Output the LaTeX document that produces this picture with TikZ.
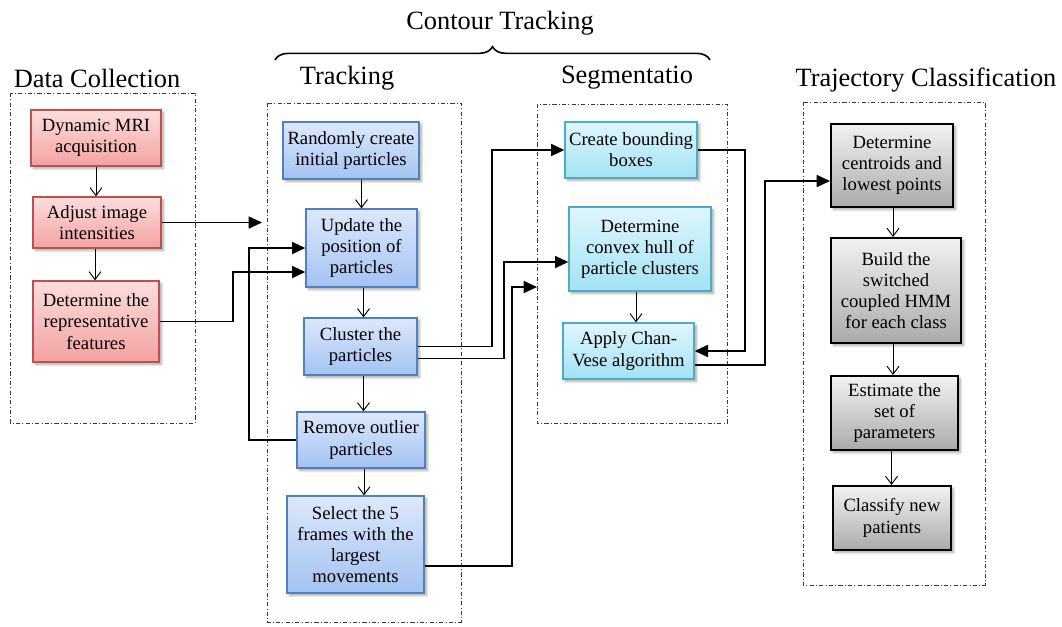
\documentclass[tikz,border=0pt]{standalone}
\usepackage{fontspec}
\setmainfont{Liberation Serif}
\usetikzlibrary{arrows.meta,shadows.blur,decorations.pathreplacing,calc}

\definecolor{redline}{HTML}{C0504D}
\definecolor{redtop}{HTML}{FDDDDD}
\definecolor{redbot}{HTML}{F2A2A1}
\definecolor{blueline}{HTML}{4F81BD}
\definecolor{bluetop}{HTML}{DDE8FB}
\definecolor{bluebot}{HTML}{A4C2F2}
\definecolor{cyanline}{HTML}{4BACC6}
\definecolor{cyantop}{HTML}{E0F6FC}
\definecolor{cyanbot}{HTML}{A2E2F4}
\definecolor{graytop}{HTML}{F2F2F2}
\definecolor{graybot}{HTML}{AAAAAA}
\definecolor{frameline}{HTML}{3A3A3A}

\tikzset{
  bw/.style={minimum width=#1*0.75pt},
  bh/.style={minimum height=#1*0.75pt},
  box/.style={rectangle, align=center, inner sep=0.5pt,
    font=\fontsize{14}{15.9}\selectfont,
    blur shadow={shadow xshift=1.8pt, shadow yshift=-1.8pt, shadow blur steps=6, shadow opacity=35}},
  redbox/.style={box, draw=redline, line width=1pt, top color=redtop, bottom color=redbot},
  bluebox/.style={box, draw=blueline, line width=1pt, top color=bluetop, bottom color=bluebot},
  cyanbox/.style={box, draw=cyanline, line width=1pt, top color=cyantop, bottom color=cyanbot},
  graybox/.style={box, draw=black, line width=1.5pt, top color=graytop, bottom color=graybot},
  stage/.style={draw=frameline, line width=0.6pt,
    dash pattern=on 3.2pt off 1.6pt on 0.8pt off 1.6pt},
  heading/.style={font=\fontsize{19.8}{22}\selectfont, inner sep=0pt},
  flow/.style={line width=0.7pt, -{Straight Barb[length=6pt,width=9pt]}},
  link/.style={line width=1.3pt, -{Triangle[length=10pt,width=9pt]}}
}

\begin{document}
\begin{tikzpicture}[x=0.75pt, y=-0.75pt]
\useasboundingbox (0,0) rectangle (1062,626);

% stage frames
\draw[stage] (10,93) rectangle (195,423);
\draw[stage] (267,103) rectangle (461,622);
\draw[stage] (537,104) rectangle (727,423);
\draw[stage] (803,102) rectangle (985,585);

% headings
\node[heading] (hdc) at (97,78) {Data Collection};
\node[heading] (htr) at (347,78) {Tracking};
\node[heading] (hsg) at (627,78) {Segmentatio};
\node[heading] (htc) at (926,80) {Trajectory Classification};
\node[heading] (hct) at (500,23) {Contour Tracking};
\coordinate (brl) at (275,60);
\coordinate (brr) at (710,60);
\draw[line width=1.2pt, decorate, decoration={brace, amplitude=10pt}] (brl) -- (brr);

% data collection
\node[redbox, bw=130, bh=56] (dyn) at (96,138) {Dynamic MRI\\acquisition};
\node[redbox, bw=128, bh=51] (adj) at (97,222.5) {Adjust image\\intensities};
\node[redbox, bw=126, bh=81] (rep) at (96,321.5) {Determine the\\representative\\features};

% tracking
\node[bluebox, bw=136, bh=57] (rnd) at (351,150.5) {Randomly create\\initial particles};
\node[bluebox, bw=111, bh=78] (upd) at (361.5,248) {Update the\\position of\\particles};
\node[bluebox, bw=113, bh=57] (clu) at (360.5,346.5) {Cluster the\\particles};
\node[bluebox, bw=128, bh=56] (rem) at (361,440) {Remove outlier\\particles};
\node[bluebox, bw=137, bh=97] (sel) at (355.5,544.5) {Select the 5\\frames with the\\largest\\movements};

% segmentation
\node[cyanbox, bw=132, bh=56] (bnd) at (631,150) {Create bounding\\boxes};
\node[cyanbox, bw=142, bh=84] (hull) at (640,249) {Determine\\convex hull of\\particle clusters};
\node[cyanbox, bw=131, bh=56] (cv) at (628.5,351) {Apply Chan-\\Vese algorithm};

% trajectory classification
\node[graybox, bw=122, bh=83] (cen) at (892,165.5) {Determine\\centroids and\\lowest points};
\node[graybox, bw=130, bh=105] (hmm) at (896,290.5) {Build the\\switched\\coupled HMM\\for each class};
\node[graybox, bw=127, bh=74] (est) at (894.5,413) {Estimate the\\set of\\parameters};
\node[graybox, bw=118, bh=64] (cls) at (892,518) {Classify new\\patients};

% ports
\coordinate (trin) at (262,222.5);
\coordinate (updin) at ($(upd.west)+(0,24)$);
\coordinate (cluout) at ($(clu.east)+(0,12)$);
\coordinate (hullin) at ($(hull.west)+(0,13)$);
\coordinate (selout) at ($(sel.east)+(0,21.5)$);
\coordinate (sgin) at (537,287);
\coordinate (cvout) at ($(cv.east)+(0,14)$);
\coordinate (cenin) at ($(cen.west)+(0,15.5)$);
\coordinate (adjs) at ($(adj.south)+(-2,0)$);
\coordinate (upds) at ($(upd.south)+(2,0)$);
\coordinate (clus) at ($(clu.south)+(3,0)$);
\coordinate (rems) at ($(rem.south)+(3,0)$);
\coordinate (hulls) at ($(hull.south)+(-4,0)$);
\coordinate (cens) at ($(cen.south)+(1,0)$);
\coordinate (hmms) at ($(hmm.south)+(-3,0)$);
\coordinate (ests) at ($(est.south)+(-3,0)$);

% steps inside each stage
\draw[flow] (dyn.south) -- (dyn.south |- adj.north);
\draw[flow] (adjs) -- (adjs |- rep.north);
\draw[flow] (upd.north |- rnd.south) -- (upd.north);
\draw[flow] (upds) -- (upds |- clu.north);
\draw[flow] (clus) -- (clus |- rem.north);
\draw[flow] (rems) -- (rems |- sel.north);
\draw[flow] (hulls) -- (hulls |- cv.north);
\draw[flow] (cens) -- (cens |- hmm.north);
\draw[flow] (hmms) -- (hmms |- est.north);
\draw[flow] (ests) -- (ests |- cls.north);

% links between stages
\draw[link] (adj.east) -- (trin);
\draw[link] (rep.east) -- ++(73,0) |- (updin);
\draw[link] (rem.west) -- ++(-47,0) |- (upd.west);
\draw[link] (clu.east) -- ++(74,0) |- (bnd.west);
\draw[link] (cluout) -- ++(86,0) |- (hullin);
\draw[link] (selout) -- ++(87,0) |- (sgin);
\draw[link] (bnd.east) -- ++(47,0) |- (cv.east);
\draw[link] (cvout) -- ++(70,0) |- (cenin);
\end{tikzpicture}
\end{document}
